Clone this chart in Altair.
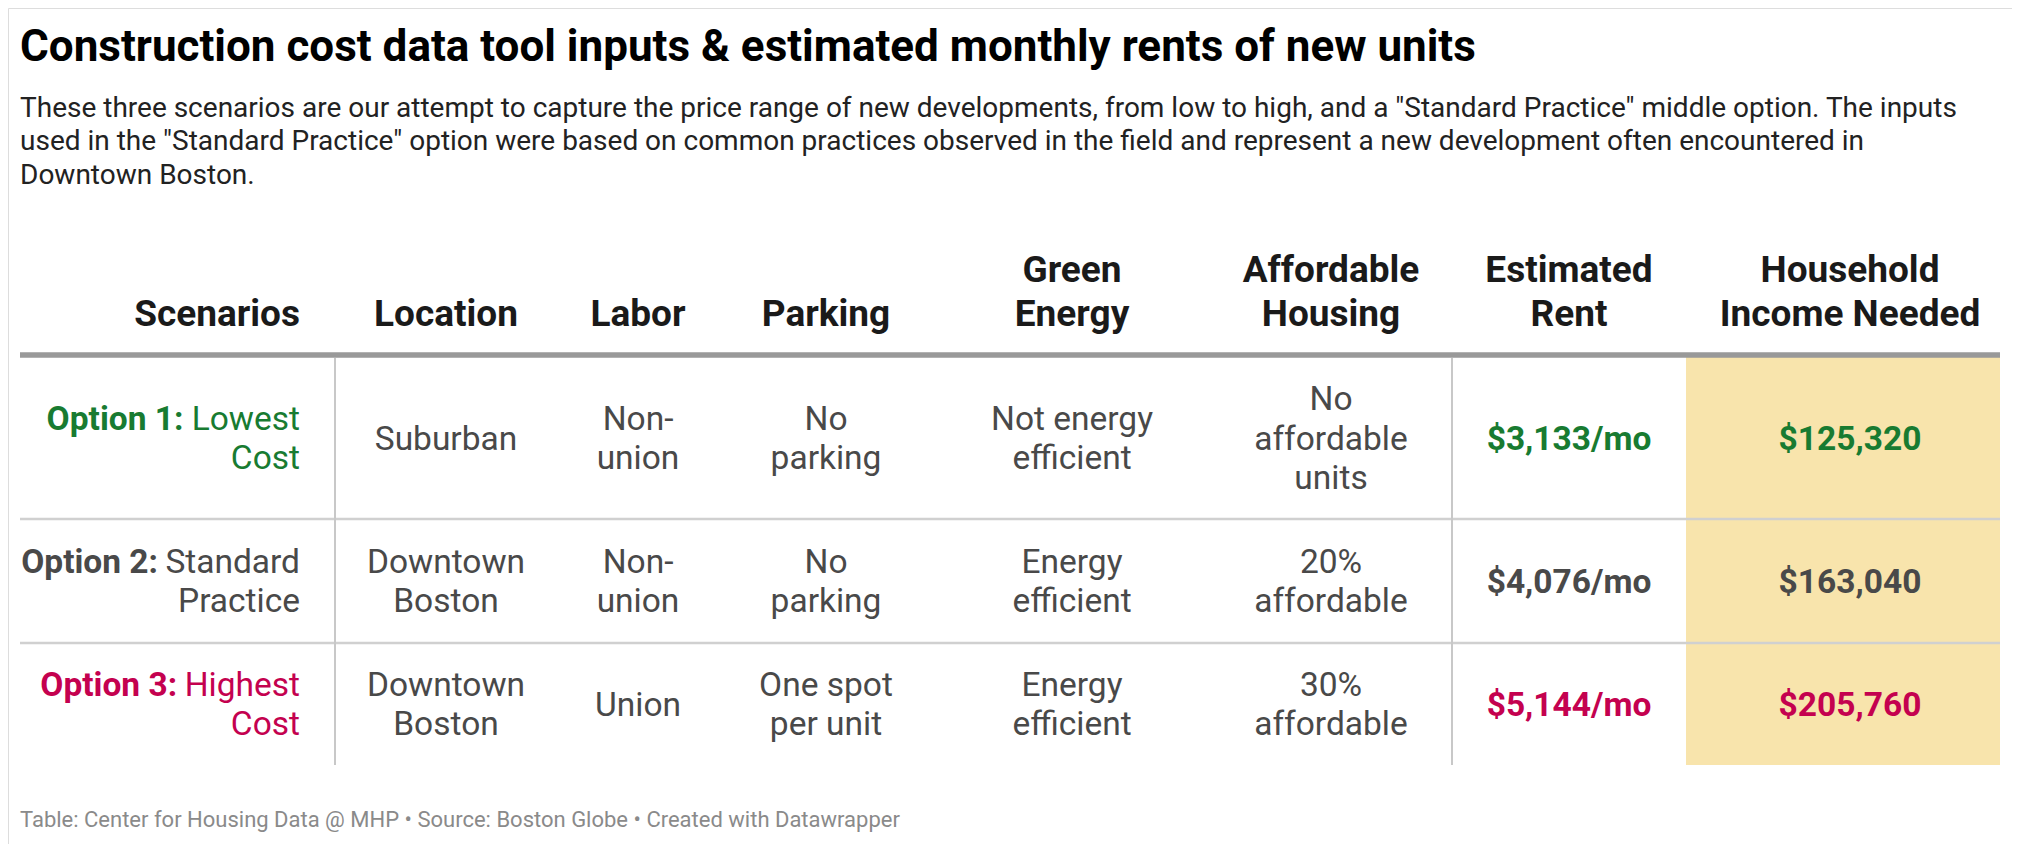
import altair as alt
import pandas as pd

# ---------------- data ----------------
title_text = "Construction cost data tool inputs & estimated monthly rents of new units"
subtitle_lines = [
    'These three scenarios are our attempt to capture the price range of new developments, from low to high, and a "Standard Practice" middle option. The inputs',
    'used in the "Standard Practice" option were based on common practices observed in the field and represent a new development often encountered in',
    'Downtown Boston.',
]
footer_text = "Table: Center for Housing Data @ MHP \u2022 Source: Boston Globe \u2022 Created with Datawrapper"

header_line1 = ["", "", "", "", "Green", "Affordable", "Estimated", "Household"]
header_line2 = ["Scenarios", "Location", "Labor", "Parking", "Energy", "Housing", "Rent", "Income Needed"]

scenario_prefix = ["Option 1:", "Option 2:", "Option 3:"]
scenario_name = [["Lowest", "Cost"], ["Standard", "Practice"], ["Highest", "Cost"]]
location = [["Suburban"], ["Downtown", "Boston"], ["Downtown", "Boston"]]
labor = [["Non-", "union"], ["Non-", "union"], ["Union"]]
parking = [["No", "parking"], ["No", "parking"], ["One spot", "per unit"]]
green_energy = [["Not energy", "efficient"], ["Energy", "efficient"], ["Energy", "efficient"]]
affordable = [["No", "affordable", "units"], ["20%", "affordable"], ["30%", "affordable"]]
rent = [3133, 4076, 5144]
income = [125320, 163040, 205760]

# ---------------- layout / style ----------------
FONT = "Roboto"
row_colors = ["#187b31", "#494949", "#c4014f"]
GRAY = "#494949"
HEAD = "#1a1a1a"

M = 8
W, H = 2020, 852
col_edges = [20, 335, 557, 719, 933, 1211, 1452, 1686, 2000]
col_anchor = [300, 446, 638, 826, 1072, 1331, 1569, 1850]
row_edges = [357, 519, 643, 765]
row_centers = [(row_edges[i] + row_edges[i + 1]) / 2 + 1.5 for i in range(3)]
BODY = 33.5
HEADER = 37
LH = 39.5
PREFIX_GAP = 1

# approximate Roboto Regular advance widths (em) for right-aligned mixed text
adv = {" ": 0.2476, "L": 0.526, "o": 0.557, "w": 0.748, "e": 0.528, "s": 0.516,
       "t": 0.327, "S": 0.595, "a": 0.531, "n": 0.539, "d": 0.550, "r": 0.337,
       "H": 0.696, "i": 0.237, "g": 0.548, "h": 0.539}


def text_w(s, size):
    return sum(adv.get(ch, 0.55) for ch in s) * size


xs = alt.Scale(domain=[M, W - M], range=[0, W - 2 * M])
ys = alt.Scale(domain=[M, H - M], range=[0, H - 2 * M])


def X(f="x"):
    return alt.X(f"{f}:Q", scale=xs, axis=None)


def Y(f="y"):
    return alt.Y(f"{f}:Q", scale=ys, axis=None)


# shading of income column
shade = pd.DataFrame({"x": [col_edges[-2]], "x2": [col_edges[-1]],
                      "y": [row_edges[0] - 1], "y2": [row_edges[-1]]})
shade_l = alt.Chart(shade).mark_rect(color="#f8e4ac").encode(
    x=X(), x2="x2:Q", y=Y(), y2="y2:Q")

# horizontal rules
hrules = pd.DataFrame({"x": [col_edges[0]] * 2, "x2": [col_edges[-1]] * 2,
                       "y": row_edges[1:3]})
hrule_l = alt.Chart(hrules).mark_rule(color="#d0d0d0", strokeWidth=2.5).encode(
    x=X(), x2="x2:Q", y=Y())
head_rule = pd.DataFrame({"x": [col_edges[0]], "x2": [col_edges[-1]], "y": [355]})
head_rule_l = alt.Chart(head_rule).mark_rule(color="#999999", strokeWidth=5.5).encode(
    x=X(), x2="x2:Q", y=Y())
vrules = pd.DataFrame({"x": [col_edges[1], col_edges[6]], "y": [358] * 2, "y2": [row_edges[-1]] * 2})
vrule_l = alt.Chart(vrules).mark_rule(color="#c8c8c8", strokeWidth=2).encode(
    x=X(), y=Y(), y2="y2:Q")

# headers
hdr_rows = []
for i in range(len(header_line2)):
    if header_line1[i]:
        hdr_rows.append({"x": col_anchor[i], "y": 282, "t": header_line1[i], "c": i})
    hdr_rows.append({"x": col_anchor[i], "y": 326, "t": header_line2[i], "c": i})
hdr = pd.DataFrame(hdr_rows)
hdr_right = alt.Chart(hdr[hdr.c == 0]).mark_text(
    font=FONT, fontSize=HEADER, fontWeight="bold", color=HEAD, align="right",
    baseline="alphabetic").encode(x=X(), y=Y(), text="t:N")
hdr_center = alt.Chart(hdr[hdr.c > 0]).mark_text(
    font=FONT, fontSize=HEADER, fontWeight="bold", color=HEAD, align="center",
    baseline="alphabetic").encode(x=X(), y=Y(), text="t:N")

# body regular centered (gray)
body_rows = []
for ci, col in enumerate([location, labor, parking, green_energy, affordable], start=1):
    for r in range(3):
        lines = col[r]
        n = len(lines)
        for k, ln in enumerate(lines):
            body_rows.append({"x": col_anchor[ci],
                              "y": row_centers[r] + (k - (n - 1) / 2) * LH,
                              "t": ln})
body = pd.DataFrame(body_rows)
body_l = alt.Chart(body).mark_text(
    font=FONT, fontSize=BODY, color=GRAY, align="center", baseline="middle"
).encode(x=X(), y=Y(), text="t:N")

# scenarios column
sc_rows = []
pre_rows = []
for r in range(3):
    lines = scenario_name[r]
    n = len(lines)
    for k, ln in enumerate(lines):
        sc_rows.append({"x": col_anchor[0], "y": row_centers[r] + (k - (n - 1) / 2) * LH,
                        "t": ln, "col": row_colors[r]})
    pre_rows.append({"x": col_anchor[0] - text_w(" " + lines[0], BODY) - PREFIX_GAP,
                     "y": row_centers[r] - (n - 1) / 2 * LH,
                     "t": scenario_prefix[r], "col": row_colors[r]})
sc = pd.DataFrame(sc_rows)
pre = pd.DataFrame(pre_rows)
sc_l = alt.Chart(sc).mark_text(font=FONT, fontSize=BODY, align="right", baseline="middle").encode(
    x=X(), y=Y(), text="t:N", color=alt.Color("col:N", scale=None))
pre_l = alt.Chart(pre).mark_text(font=FONT, fontSize=BODY, fontWeight="bold", align="right",
                                 baseline="middle").encode(
    x=X(), y=Y(), text="t:N", color=alt.Color("col:N", scale=None))

# rent & income
val_rows = []
for r in range(3):
    val_rows.append({"x": col_anchor[6], "y": row_centers[r], "t": f"${rent[r]:,}/mo", "col": row_colors[r]})
    val_rows.append({"x": col_anchor[7], "y": row_centers[r], "t": f"${income[r]:,}", "col": row_colors[r]})
vals = pd.DataFrame(val_rows)
val_l = alt.Chart(vals).mark_text(font=FONT, fontSize=BODY, fontWeight="bold", align="center",
                                  baseline="middle").encode(
    x=X(), y=Y(), text="t:N", color=alt.Color("col:N", scale=None))

# title / subtitle / footer
title_df = pd.DataFrame({"x": [20], "y": [61], "t": [title_text]})
title_l = alt.Chart(title_df).mark_text(font=FONT, fontSize=44, fontWeight="bold", color="#000000",
                                        align="left", baseline="alphabetic").encode(
    x=X(), y=Y(), text="t:N")
sub_df = pd.DataFrame({"x": [20] * 3, "y": [116.5, 150, 184], "t": subtitle_lines})
sub_l = alt.Chart(sub_df).mark_text(font=FONT, fontSize=28, color="#222222",
                                    align="left", baseline="alphabetic").encode(
    x=X(), y=Y(), text="t:N")
foot_df = pd.DataFrame({"x": [20], "y": [826.5], "t": [footer_text]})
foot_l = alt.Chart(foot_df).mark_text(font=FONT, fontSize=22, color="#8a8a8a",
                                      align="left", baseline="alphabetic").encode(
    x=X(), y=Y(), text="t:N")

chart = alt.layer(
    shade_l, hrule_l, head_rule_l, vrule_l,
    hdr_right, hdr_center, body_l, sc_l, pre_l, val_l,
    title_l, sub_l, foot_l,
).properties(
    width=W - 2 * M, height=H - 2 * M,
    autosize=alt.AutoSizeParams(type="none"), padding=0,
).configure_view(stroke=None).configure(background="white")

chart.save("out.html", embed_options={"renderer": "svg", "actions": False})
